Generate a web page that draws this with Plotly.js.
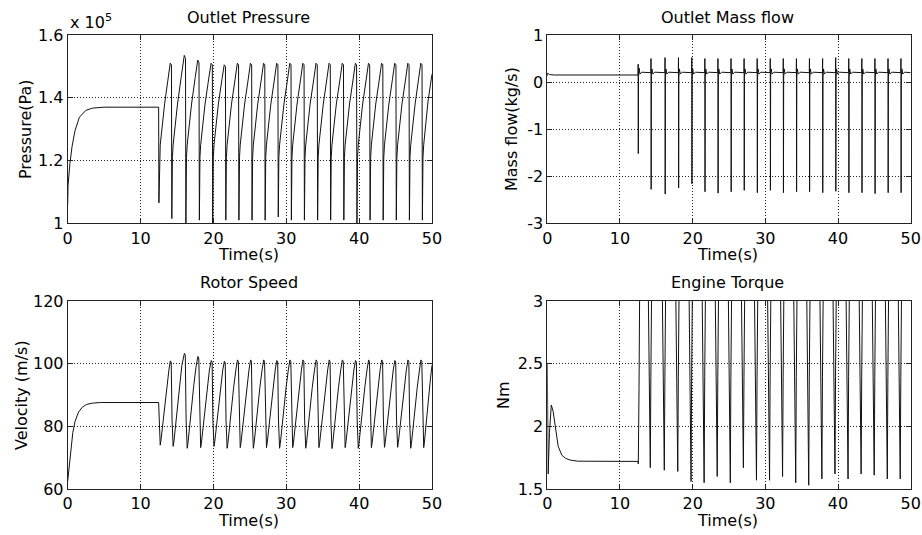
<!DOCTYPE html>
<html>
<head>
<meta charset="utf-8">
<script src="https://cdn.plot.ly/plotly-3.0.1.min.js"></script>
<style>html,body{margin:0;padding:0;background:#fff;}#chart{width:922px;height:535px;}</style>
</head>
<body>
<div id="chart"></div>
<script>
// ---------- Outlet pressure (units of 1e5 Pa) ----------
const pressureT = [
0,0.05,0.3,0.6,1.0,1.6,2.5,3.4,5.0,12.48,
12.52,12.6,12.7,13.3,13.8,14.07,14.24,
14.29,14.37,14.47,15.07,15.6,16.0,16.17,
16.22,16.3,16.4,17.0,17.5,17.85,18.02,
18.07,18.15,18.25,18.85,19.35,19.68,19.85,
19.9,19.98,20.08,20.68,21.18,21.48,21.65,
21.7,21.78,21.88,22.48,22.98,23.28,23.45,
23.5,23.58,23.68,24.28,24.78,25.08,25.25,
25.3,25.38,25.48,26.08,26.58,26.88,27.05,
27.1,27.18,27.28,27.88,28.38,28.68,28.85,
28.9,28.98,29.08,29.68,30.18,30.48,30.65,
30.7,30.78,30.88,31.48,31.97,32.27,32.44,
32.49,32.57,32.67,33.27,33.78,34.08,34.25,
34.3,34.38,34.48,35.08,35.57,35.87,36.04,
36.09,36.17,36.27,36.87,37.38,37.68,37.85,
37.9,37.98,38.08,38.68,39.18,39.48,39.65,
39.7,39.78,39.88,40.48,40.98,41.28,41.45,
41.5,41.58,41.68,42.28,42.78,43.08,43.25,
43.3,43.38,43.48,44.08,44.58,44.88,45.05,
45.1,45.18,45.28,45.88,46.38,46.68,46.85,
46.9,46.98,47.08,47.68,48.16,48.46,48.63,
48.68,48.76,48.86,49.46,50.0
];
const pressureV = [
1.06,1.12,1.19,1.245,1.295,1.338,1.360,1.367,1.370,1.370,
1.065,1.21,1.25,1.38,1.46,1.51,1.505,
1.015,1.21,1.25,1.38,1.47,1.535,1.525,
0.995,1.21,1.25,1.38,1.465,1.52,1.512,
1.01,1.21,1.25,1.38,1.46,1.51,1.505,
1.0,1.21,1.25,1.38,1.46,1.505,1.5,
1.01,1.21,1.25,1.38,1.46,1.51,1.505,
1.01,1.21,1.25,1.38,1.46,1.51,1.505,
1.01,1.21,1.25,1.38,1.46,1.51,1.505,
1.01,1.21,1.25,1.38,1.46,1.51,1.505,
1.02,1.21,1.25,1.38,1.46,1.51,1.505,
1.01,1.21,1.25,1.38,1.46,1.51,1.505,
1.01,1.21,1.25,1.38,1.46,1.51,1.505,
1.01,1.21,1.25,1.38,1.46,1.51,1.505,
1.01,1.21,1.25,1.38,1.46,1.51,1.505,
1.01,1.21,1.25,1.38,1.46,1.51,1.505,
1.0,1.21,1.25,1.38,1.46,1.51,1.505,
1.01,1.21,1.25,1.38,1.46,1.51,1.505,
1.01,1.21,1.25,1.38,1.46,1.51,1.505,
1.01,1.21,1.25,1.38,1.46,1.51,1.505,
1.01,1.21,1.25,1.38,1.46,1.51,1.505,
1.01,1.21,1.25,1.39,1.475
];

// ---------- Outlet mass flow (kg/s) ----------
const massT = [
0,0.05,0.3,1.0,12.49,
12.5,12.52,12.55,12.62,12.75,13.0,14.25,
14.27,14.29,14.32,14.39,14.52,14.77,16.18,
16.2,16.22,16.25,16.32,16.45,16.7,18.03,
18.05,18.07,18.10,18.17,18.30,18.55,19.86,
19.88,19.90,19.93,20.00,20.13,20.38,21.66,
21.68,21.70,21.73,21.80,21.93,22.18,23.46,
23.48,23.50,23.53,23.60,23.73,23.98,25.26,
25.28,25.30,25.33,25.40,25.53,25.78,27.06,
27.08,27.10,27.13,27.20,27.33,27.58,28.86,
28.88,28.90,28.93,29.00,29.13,29.38,30.66,
30.68,30.70,30.73,30.80,30.93,31.18,32.45,
32.47,32.49,32.52,32.59,32.72,32.97,34.26,
34.28,34.30,34.33,34.40,34.53,34.78,36.05,
36.07,36.09,36.12,36.19,36.32,36.57,37.86,
37.88,37.90,37.93,38.00,38.13,38.38,39.66,
39.68,39.70,39.73,39.80,39.93,40.18,41.46,
41.48,41.50,41.53,41.60,41.73,41.98,43.26,
43.28,43.30,43.33,43.40,43.53,43.78,45.06,
45.08,45.10,45.13,45.20,45.33,45.58,46.86,
46.88,46.90,46.93,47.00,47.13,47.38,48.64,
48.66,48.68,48.71,48.78,48.91,49.16,50.0
];
const massV = [
0.13,0.19,0.16,0.15,0.15,
0.38,-1.52,0.1,0.3,0.17,0.21,0.2,
0.5,-2.28,0.12,0.28,0.17,0.21,0.2,
0.52,-2.38,0.08,0.28,0.17,0.21,0.2,
0.52,-2.25,0.1,0.28,0.17,0.21,0.2,
0.52,-2.16,0.1,0.28,0.17,0.21,0.2,
0.5,-2.33,0.1,0.28,0.17,0.21,0.2,
0.5,-2.36,0.1,0.28,0.17,0.21,0.2,
0.5,-2.33,0.1,0.28,0.17,0.21,0.2,
0.5,-2.3,0.1,0.28,0.17,0.21,0.2,
0.5,-2.35,0.1,0.28,0.17,0.21,0.2,
0.5,-2.3,0.1,0.28,0.17,0.21,0.2,
0.5,-2.35,0.1,0.28,0.17,0.21,0.2,
0.5,-2.33,0.1,0.28,0.17,0.21,0.2,
0.5,-2.33,0.1,0.28,0.17,0.21,0.2,
0.5,-2.35,0.1,0.28,0.17,0.21,0.2,
0.52,-2.32,0.1,0.28,0.17,0.21,0.2,
0.5,-2.35,0.1,0.28,0.17,0.21,0.2,
0.5,-2.35,0.1,0.28,0.17,0.21,0.2,
0.5,-2.37,0.1,0.28,0.17,0.21,0.2,
0.5,-2.35,0.1,0.28,0.17,0.21,0.2,
0.5,-2.35,0.1,0.28,0.17,0.21,0.2
];

// ---------- Rotor speed (m/s) ----------
const speedT = [
0,0.3,0.7,1.0,1.5,2.0,2.6,3.4,4.5,12.48,
12.55,12.63,12.7,12.8,13.2,13.6,13.9,14.09,14.21,
14.32,14.4,14.47,14.57,14.97,15.37,15.67,16.02,16.14,
16.25,16.33,16.4,16.5,16.9,17.3,17.6,17.87,17.99,
18.1,18.18,18.25,18.35,18.75,19.15,19.45,19.7,19.82,
19.93,20.01,20.08,20.18,20.58,20.98,21.28,21.5,21.62,
21.73,21.81,21.88,21.98,22.38,22.78,23.08,23.3,23.42,
23.53,23.61,23.68,23.78,24.18,24.58,24.88,25.1,25.22,
25.33,25.41,25.48,25.58,25.98,26.38,26.68,26.9,27.02,
27.13,27.21,27.28,27.38,27.78,28.18,28.48,28.7,28.82,
28.93,29.01,29.08,29.18,29.58,29.98,30.28,30.5,30.62,
30.73,30.81,30.88,30.98,31.38,31.78,32.08,32.29,32.41,
32.52,32.6,32.67,32.77,33.17,33.57,33.87,34.1,34.22,
34.33,34.41,34.48,34.58,34.98,35.38,35.68,35.89,36.01,
36.12,36.2,36.27,36.37,36.77,37.17,37.47,37.7,37.82,
37.93,38.01,38.08,38.18,38.58,38.98,39.28,39.5,39.62,
39.73,39.81,39.88,39.98,40.38,40.78,41.08,41.3,41.42,
41.53,41.61,41.68,41.78,42.18,42.58,42.88,43.1,43.22,
43.33,43.41,43.48,43.58,43.98,44.38,44.68,44.9,45.02,
45.13,45.21,45.28,45.38,45.78,46.18,46.48,46.7,46.82,
46.93,47.01,47.08,47.18,47.58,47.98,48.28,48.48,48.6,
48.71,48.79,48.86,48.96,49.36,49.76,50.0
];
const speedV = [
62.5,70,78,81.5,84.6,86.1,87.0,87.4,87.6,87.6,
81,74.6,74.0,75.5,84.5,92.8,98.2,100.9,100.4,
82,74.3,73.6,75,84.5,93.5,99.5,103.3,102.7,
82,73.8,73.0,74.5,84.3,93,98.8,102.3,101.8,
82,74,73.2,74.7,84,92.5,98,101,100.5,
82,74.3,73.6,75,84,92.5,98,100.8,100.3,
82,73.8,73.0,74.5,84,92.5,98,101.2,100.7,
82,74,73.2,74.7,84,92.5,98,101.2,100.7,
82,73.8,73.0,74.5,84,92.5,98,101.2,100.7,
82,74,73.2,74.7,84,92.5,98,101,100.5,
82,73.8,73.0,74.5,84,92.5,98,101.2,100.7,
82,74,73.2,74.7,84,92.5,98,101.2,100.7,
82,73.8,73.0,74.5,84,92.5,98,101.2,100.7,
82,74,73.2,74.7,84,92.5,98,101.2,100.7,
82,73.7,72.9,74.4,84,92.5,98,101.2,100.7,
82,74,73.2,74.7,84,92.5,98,101,100.5,
82,73.8,73.0,74.5,84,92.5,98,101.2,100.7,
82,74,73.2,74.7,84,92.5,98,101.2,100.7,
82,74,73.3,74.8,84,92.5,98,101,100.5,
82,74,73.3,74.8,84,92.5,98,101.2,100.7,
82,73.8,73.0,74.5,84,92.5,98,101.2,100.7,
82,74,73.2,75,85.5,94.5,99.5
];

// ---------- Engine torque (Nm) ----------
const torqueT = [
0,0.12,0.3,0.55,0.8,1.1,1.5,2.0,2.5,3.2,4.2,12.48,
12.52,12.62,12.72,
13.87,14.11,14.17,14.25,14.37,
15.8,16.04,16.1,16.18,16.3,
17.65,17.89,17.95,18.03,18.15,
19.48,19.72,19.78,19.86,19.98,
21.28,21.52,21.58,21.66,21.78,
23.08,23.32,23.38,23.46,23.58,
24.88,25.12,25.18,25.26,25.38,
26.68,26.92,26.98,27.06,27.18,
28.48,28.72,28.78,28.86,28.98,
30.28,30.52,30.58,30.66,30.78,
32.07,32.31,32.37,32.45,32.57,
33.88,34.12,34.18,34.26,34.38,
35.67,35.91,35.97,36.05,36.17,
37.48,37.72,37.78,37.86,37.98,
39.28,39.52,39.58,39.66,39.78,
41.08,41.32,41.38,41.46,41.58,
42.88,43.12,43.18,43.26,43.38,
44.68,44.92,44.98,45.06,45.18,
46.48,46.72,46.78,46.86,46.98,
48.26,48.5,48.56,48.64,48.76,
50.0
];
const torqueV = [
2.5,1.62,1.95,2.17,2.12,1.98,1.84,1.77,1.745,1.73,1.722,1.72,
1.70,2.3,3.2,
3.2,1.9,1.67,2.4,3.2,
3.2,1.9,1.65,2.4,3.2,
3.2,1.95,1.64,2.4,3.2,
3.2,1.9,1.56,2.4,3.2,
3.2,1.85,1.55,2.4,3.2,
3.2,1.9,1.6,2.4,3.2,
3.2,1.9,1.55,2.4,3.2,
3.2,1.9,1.67,2.4,3.2,
3.2,1.9,1.57,2.4,3.2,
3.2,1.9,1.57,2.4,3.2,
3.2,1.9,1.6,2.4,3.2,
3.2,1.9,1.55,2.4,3.2,
3.2,1.9,1.53,2.4,3.2,
3.2,1.9,1.58,2.4,3.2,
3.2,1.9,1.62,2.4,3.2,
3.2,1.9,1.58,2.4,3.2,
3.2,1.9,1.62,2.4,3.2,
3.2,1.9,1.61,2.4,3.2,
3.2,1.9,1.58,2.4,3.2,
3.2,1.9,1.58,2.4,3.2,
3.2
];

// ---------- Tick labels ----------
const timeTicks = [0, 10, 20, 30, 40, 50];
const pressureTicks = [1, 1.2, 1.4, 1.6];
const pressureTickText = ['1', '1.2', '1.4', '1.6'];
const massTicks = [-3, -2, -1, 0, 1];
const massTickText = ['-3', '-2', '-1', '0', '1'];
const speedTicks = [60, 80, 100, 120];
const torqueTicks = [1.5, 2, 2.5, 3];
const torqueTickText = ['1.5', '2', '2.5', '3'];

const FONT = 'DejaVu Sans, Liberation Sans, Arial, sans-serif';
const FS = 16;

function ax(extra) {
  return Object.assign({
    showline: true, linecolor: '#222', linewidth: 1, mirror: 'ticks',
    ticks: 'inside', ticklen: 5, tickwidth: 1, tickcolor: '#222',
    showgrid: true, gridcolor: '#222', gridwidth: 1, griddash: '1px,2px',
    zeroline: false, fixedrange: true,
    tickfont: {family: FONT, size: FS, color: '#000'}
  }, extra);
}

const lineStyle = {color: '#111', width: 1};
const traces = [
  {x: pressureT, y: pressureV, xaxis: 'x', yaxis: 'y', type: 'scatter', mode: 'lines', line: lineStyle},
  {x: massT, y: massV, xaxis: 'x2', yaxis: 'y2', type: 'scatter', mode: 'lines', line: lineStyle},
  {x: speedT, y: speedV, xaxis: 'x3', yaxis: 'y3', type: 'scatter', mode: 'lines', line: lineStyle},
  {x: torqueT, y: torqueV, xaxis: 'x4', yaxis: 'y4', type: 'scatter', mode: 'lines', line: lineStyle}
];

const W = 922, H = 535;
const xL = [67.7 / W, 432 / W], xR = [547.3 / W, 910.7 / W];
const yT = [1 - 223.3 / H, 1 - 35 / H], yB = [1 - 489 / H, 1 - 301 / H];

function ann(text, px, py, opts) {
  return Object.assign({
    text: text, x: px / W, y: 1 - py / H, xref: 'paper', yref: 'paper',
    showarrow: false, xanchor: 'center', yanchor: 'middle',
    font: {family: FONT, size: FS, color: '#000'}
  }, opts || {});
}

const layout = {
  width: W, height: H,
  margin: {l: 0, r: 0, t: 0, b: 0},
  paper_bgcolor: '#fff', plot_bgcolor: '#fff',
  showlegend: false,
  font: {family: FONT, size: FS, color: '#000'},
  xaxis: ax({domain: xL, anchor: 'y', range: [0, 50], tickvals: timeTicks}),
  yaxis: ax({domain: yT, anchor: 'x', range: [1, 1.6], tickvals: pressureTicks, ticktext: pressureTickText}),
  xaxis2: ax({domain: xR, anchor: 'y2', range: [0, 50], tickvals: timeTicks}),
  yaxis2: ax({domain: yT, anchor: 'x2', range: [-3, 1], tickvals: massTicks, ticktext: massTickText}),
  xaxis3: ax({domain: xL, anchor: 'y3', range: [0, 50], tickvals: timeTicks}),
  yaxis3: ax({domain: yB, anchor: 'x3', range: [60, 120], tickvals: speedTicks}),
  xaxis4: ax({domain: xR, anchor: 'y4', range: [0, 50], tickvals: timeTicks}),
  yaxis4: ax({domain: yB, anchor: 'x4', range: [1.5, 3], tickvals: torqueTicks, ticktext: torqueTickText}),
  annotations: [
    ann('Outlet Pressure', 249, 17),
    ann('Outlet Mass flow', 727, 17),
    ann('Rotor Speed', 249, 282),
    ann('Engine Torque', 727, 282),
    ann('Time(s)', 249, 255),
    ann('Time(s)', 727, 255),
    ann('Time(s)', 249, 520),
    ann('Time(s)', 727, 520),
    ann('Pressure(Pa)', 25, 129, {textangle: -90}),
    ann('Mass flow(kg/s)', 511, 129, {textangle: -90}),
    ann('Velocity (m/s)', 21, 395, {textangle: -90}),
    ann('Nm', 503, 395, {textangle: -90}),
    ann('x 10<sup>5</sup>', 68, 34, {xanchor: 'left', yanchor: 'bottom'})
  ]
};

Plotly.newPlot('chart', traces, layout, {displayModeBar: false, staticPlot: true});
</script>
</body>
</html>
